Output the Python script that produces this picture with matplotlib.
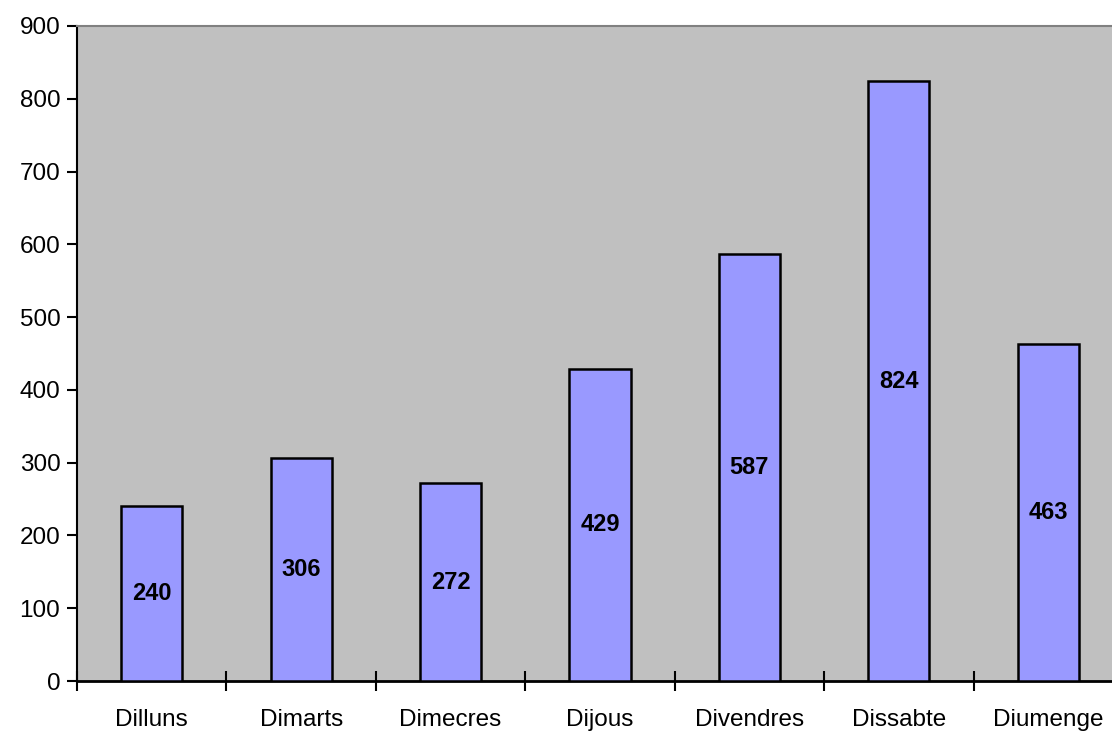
import matplotlib.pyplot as plt

# dades
dies = ["Dilluns", "Dimarts", "Dimecres", "Dijous", "Divendres", "Dissabte", "Diumenge"]
valors = [240, 306, 272, 429, 587, 824, 463]
yticks = [0, 100, 200, 300, 400, 500, 600, 700, 800, 900]

plt.rcParams['font.family'] = ['Liberation Sans', 'DejaVu Sans']

fig = plt.figure(figsize=(11.12, 7.35), dpi=100)
ax = fig.add_axes([77/1112, 54/735, 1046/1112, 655/735])
ax.set_facecolor("#C0C0C0")

x = range(len(dies))
bars = ax.bar(x, valors, width=0.41, color="#9999FF", edgecolor="black", linewidth=1.8, zorder=3)

# etiquetes dins les barres
for i, v in enumerate(valors):
    ax.text(i, v / 2, str(v), ha="center", va="center", fontsize=17, fontweight="bold", zorder=4)

ax.set_xlim(-0.5, len(dies) - 0.5)
ax.set_ylim(0, 900)
ax.set_yticks(yticks)
ax.tick_params(axis="y", direction="out", length=7, width=1.5, labelsize=17.5, pad=5)

# ticks de l'eix x entre categories
ax.set_xticks([i - 0.5 for i in range(len(dies))])
ax.set_xticklabels([])
ax.set_xticks(list(x), minor=True)
ax.set_xticklabels(dies, minor=True, fontsize=17.5)
ax.tick_params(axis="x", which="major", direction="inout", length=15, width=1.5)
ax.tick_params(axis="x", which="minor", length=0, pad=20)

ax.spines["left"].set_linewidth(1.5)
ax.spines["bottom"].set_linewidth(2)
ax.spines["top"].set_color("#808080")
ax.spines["top"].set_linewidth(1.5)
ax.spines["right"].set_visible(False)

fig.savefig("out.png", dpi=100)
